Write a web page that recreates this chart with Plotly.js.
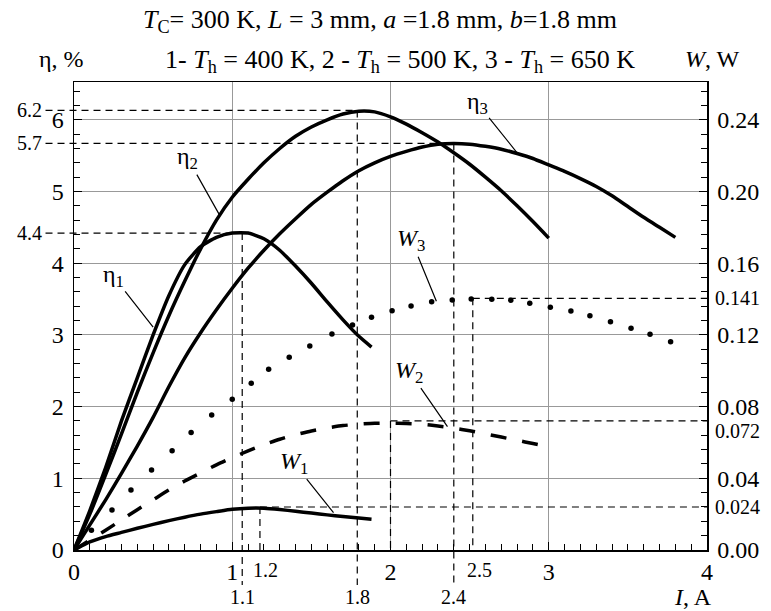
<!DOCTYPE html>
<html>
<head>
<meta charset="utf-8">
<script src="https://cdn.plot.ly/plotly-3.0.1.min.js"></script>
<style>body{margin:0;background:#fff}</style>
</head>
<body>
<div id="graphArea" style="width:771px;height:611px"></div>
<script>
// efficiency curves, eta in %
var I1 = [0,0.1,0.2,0.3,0.4,0.5,0.6,0.7,0.8,0.9,1.0,1.1,1.2,1.3,1.4,1.5,1.6,1.7,1.8,1.88]
var eta1 = [0,0.55,1.15,1.8,2.4,3.0,3.55,3.98,4.23,4.36,4.42,4.42,4.34,4.18,3.96,3.72,3.46,3.21,2.98,2.83]
var W1 = [0,0.0045,0.0075,0.0098,0.0121,0.0143,0.0164,0.0183,0.02,0.0214,0.0227,0.0233,0.0233,0.0226,0.0216,0.0206,0.0196,0.0187,0.0178,0.0171]

var I2 = [0,0.1,0.2,0.3,0.4,0.5,0.6,0.7,0.8,0.9,1.0,1.1,1.2,1.3,1.4,1.5,1.6,1.7,1.8,1.9,2.0,2.1,2.2,2.3,2.4,2.5,2.6,2.7,2.8,2.9,3.0]
var eta2 = [0,0.5,1.05,1.62,2.2,2.75,3.27,3.75,4.2,4.6,4.92,5.17,5.4,5.6,5.77,5.9,6.0,6.08,6.12,6.11,6.04,5.94,5.82,5.69,5.54,5.38,5.2,5.01,4.8,4.58,4.35]
var W2 = [0,0.0055,0.011,0.0168,0.0225,0.028,0.0335,0.0385,0.043,0.0475,0.0515,0.0553,0.0588,0.0618,0.0643,0.0664,0.0681,0.0694,0.0702,0.0707,0.0708,0.0706,0.0701,0.0692,0.068,0.0665,0.0648,0.063,0.0612,0.0594,0.0576]

var I3 = [0,0.1,0.2,0.3,0.4,0.5,0.6,0.7,0.8,0.9,1.0,1.1,1.2,1.3,1.4,1.5,1.6,1.7,1.8,1.9,2.0,2.1,2.2,2.3,2.4,2.5,2.6,2.7,2.8,2.9,3.0,3.1,3.2,3.3,3.4,3.5,3.6,3.7,3.8]
var eta3 = [0,0.35,0.7,1.07,1.45,1.85,2.28,2.68,3.03,3.35,3.65,3.93,4.18,4.41,4.62,4.82,4.99,5.15,5.29,5.4,5.49,5.56,5.62,5.66,5.67,5.66,5.63,5.59,5.53,5.46,5.37,5.28,5.18,5.07,4.94,4.79,4.64,4.5,4.36]
// W3 is drawn as separate dots
var I3dots = [0.11,0.24,0.36,0.49,0.62,0.74,0.87,1.0,1.12,1.23,1.36,1.49,1.63,1.76,1.88,2.01,2.13,2.26,2.39,2.51,2.64,2.76,2.88,3.01,3.14,3.26,3.39,3.52,3.64,3.77]
var W3 = [0.011,0.0223,0.0335,0.0446,0.0554,0.0655,0.0753,0.0841,0.093,0.1008,0.1075,0.1138,0.1205,0.1255,0.1298,0.1335,0.1361,0.1385,0.1395,0.14,0.1399,0.1393,0.1376,0.1354,0.1333,0.1307,0.1274,0.1237,0.1203,0.1162]

// marked maxima
var etaMaxVals = [6.13,5.67,4.42]
var etaMaxI = [1.79,2.40,1.063]
var etaMaxText = ["6.2","5.7","4.4"]
var etaMaxIText = ["1.8","2.4","1.1"]
var wMaxVals = [0.1404,0.072,0.024]
var wMaxI = [2.52,2.0,1.175]
var wMaxText = ["0.141","0.072","0.024"]

var serif = "Liberation Serif"
var black = "#000"
function f(size) { return {family: serif, size: size, color: black} }

var thick = {color: black, width: 3.5, shape: "spline", smoothing: 0.6}
var data = [
  {x: I1, y: eta1, mode: "lines", line: thick, yaxis: "y"},
  {x: I2, y: eta2, mode: "lines", line: thick, yaxis: "y"},
  {x: I3, y: eta3, mode: "lines", line: thick, yaxis: "y"},
  {x: I1, y: W1, mode: "lines", line: thick, yaxis: "y2"},
  {x: I2, y: W2, mode: "lines", line: {color: black, width: 3.5, dash: "16px,16px", shape: "spline", smoothing: 0.6}, yaxis: "y2"},
  {x: I3dots, y: W3, mode: "markers", marker: {color: black, size: 5.5}, yaxis: "y2"}
]

var yTop = 6.527
var dashRef = {color: black, width: 1.2, dash: "7px,5px"}
var shapes = []
var annotations = []

function note(o) {
  o.showarrow = o.showarrow || false
  if (!o.xanchor) o.xanchor = "center"
  if (!o.yanchor) o.yanchor = "middle"
  annotations.push(o)
}

etaMaxVals.forEach(function(v, i) {
  shapes.push({type: "line", xref: "paper", yref: "y", x0: -0.045, x1: etaMaxI[i] / 4, y0: v, y1: v, line: dashRef})
  shapes.push({type: "line", xref: "x", yref: "paper", x0: etaMaxI[i], x1: etaMaxI[i], y0: v / yTop, y1: -0.075, line: dashRef})
  note({xref: "paper", yref: "y", x: -0.048, y: v, text: etaMaxText[i], xanchor: "right", font: f(20)})
  note({xref: "x", yref: "paper", x: etaMaxI[i], y: -0.1, text: etaMaxIText[i], font: f(20)})
})
wMaxVals.forEach(function(v, i) {
  shapes.push({type: "line", xref: "x", yref: "y2", x0: wMaxI[i], x1: 4.02, y0: v, y1: v, line: dashRef})
  shapes.push({type: "line", xref: "x", yref: "y2", x0: wMaxI[i], x1: wMaxI[i], y0: v, y1: 0, line: dashRef})
  note({xref: "paper", yref: "y2", x: 1.01, y: v, text: wMaxText[i], xanchor: "left",
    yshift: i == 1 ? -10 : 0, font: f(20)})
})
note({xref: "x", yref: "paper", x: 1.21, y: -0.043, text: "1.2", font: f(20)})
note({xref: "x", yref: "paper", x: 2.56, y: -0.043, text: "2.5", font: f(20)})

// curve labels with leader lines
var curveLabels = [
  {x: 2.80, y: 5.54, ax: -40, ay: -50, text: "η<sub>3</sub>"},
  {x: 0.92, y: 4.67, ax: -32, ay: -57, text: "η<sub>2</sub>"},
  {x: 0.50, y: 3.11, ax: -40, ay: -51, text: "η<sub>1</sub>"},
  {x: 2.29, y: 3.47, ax: -25, ay: -61, text: "<i>W</i><sub>3</sub>"},
  {x: 2.36, y: 1.72, ax: -38, ay: -55, text: "<i>W</i><sub>2</sub>"},
  {x: 1.64, y: 0.52, ax: -40, ay: -50, text: "<i>W</i><sub>1</sub>"}
]
curveLabels.forEach(function(c) {
  annotations.push({xref: "x", yref: "y", x: c.x, y: c.y, ax: c.ax, ay: c.ay, text: c.text,
    showarrow: true, arrowhead: 0, arrowwidth: 1.2, arrowcolor: black, standoff: 0, font: f(24)})
})

// titles
note({xref: "paper", yref: "paper", x: 0.484, y: 1.13,
  text: "<i>T</i><sub>C</sub>= 300 K, <i>L</i> = 3 mm, <i>a</i> =1.8 mm, <i>b</i>=1.8 mm", font: f(26)})
note({xref: "paper", yref: "paper", x: 0.515, y: 1.045,
  text: "1- <i>T</i><sub>h</sub> = 400 K, 2 - <i>T</i><sub>h</sub> = 500 K, 3 - <i>T</i><sub>h</sub> = 650 K", font: f(26)})
note({xref: "paper", yref: "paper", x: -0.019, y: 1.05, text: "η, %", font: f(24)})
note({xref: "paper", yref: "paper", x: 1.008, y: 1.05, text: "<i>W</i>, W", font: f(24)})
note({xref: "paper", yref: "paper", x: 0.978, y: -0.1, text: "<i>I</i>, A", font: f(24)})

var layout = {
  width: 771, height: 611,
  margin: {l: 74, r: 64, t: 82, b: 61},
  paper_bgcolor: "#fff", plot_bgcolor: "#fff",
  showlegend: false,
  font: f(24),
  xaxis: {range: [0, 4], dtick: 1, showgrid: true, gridcolor: "#999", gridwidth: 1,
    showline: true, linecolor: black, linewidth: 1.5, mirror: true, zeroline: false,
    ticks: "inside", ticklen: 8, tickcolor: black, ticklabelstandoff: 0, tickfont: f(24),
    minor: {dtick: 0.1, ticks: "inside", ticklen: 6, tickcolor: black, showgrid: false}},
  yaxis: {range: [0, yTop], dtick: 1, showgrid: true, gridcolor: "#999", gridwidth: 1,
    showline: true, linecolor: black, linewidth: 1.5, zeroline: false,
    ticks: "inside", ticklen: 8, tickcolor: black, ticklabelstandoff: 4, tickfont: f(24),
    minor: {dtick: 0.2, ticks: "inside", ticklen: 6, tickcolor: black, showgrid: false}},
  yaxis2: {range: [0, yTop * 0.04], dtick: 0.04, tickformat: ".2f", overlaying: "y", side: "right",
    showgrid: false, showline: true, linecolor: black, linewidth: 1.5, zeroline: false,
    ticks: "inside", ticklen: 8, tickcolor: black, ticklabelstandoff: 4, tickfont: f(24),
    minor: {dtick: 0.008, ticks: "inside", ticklen: 6, tickcolor: black, showgrid: false}},
  shapes: shapes,
  annotations: annotations
}

Plotly.newPlot("graphArea", data, layout, {staticPlot: true})
</script>
</body>
</html>
